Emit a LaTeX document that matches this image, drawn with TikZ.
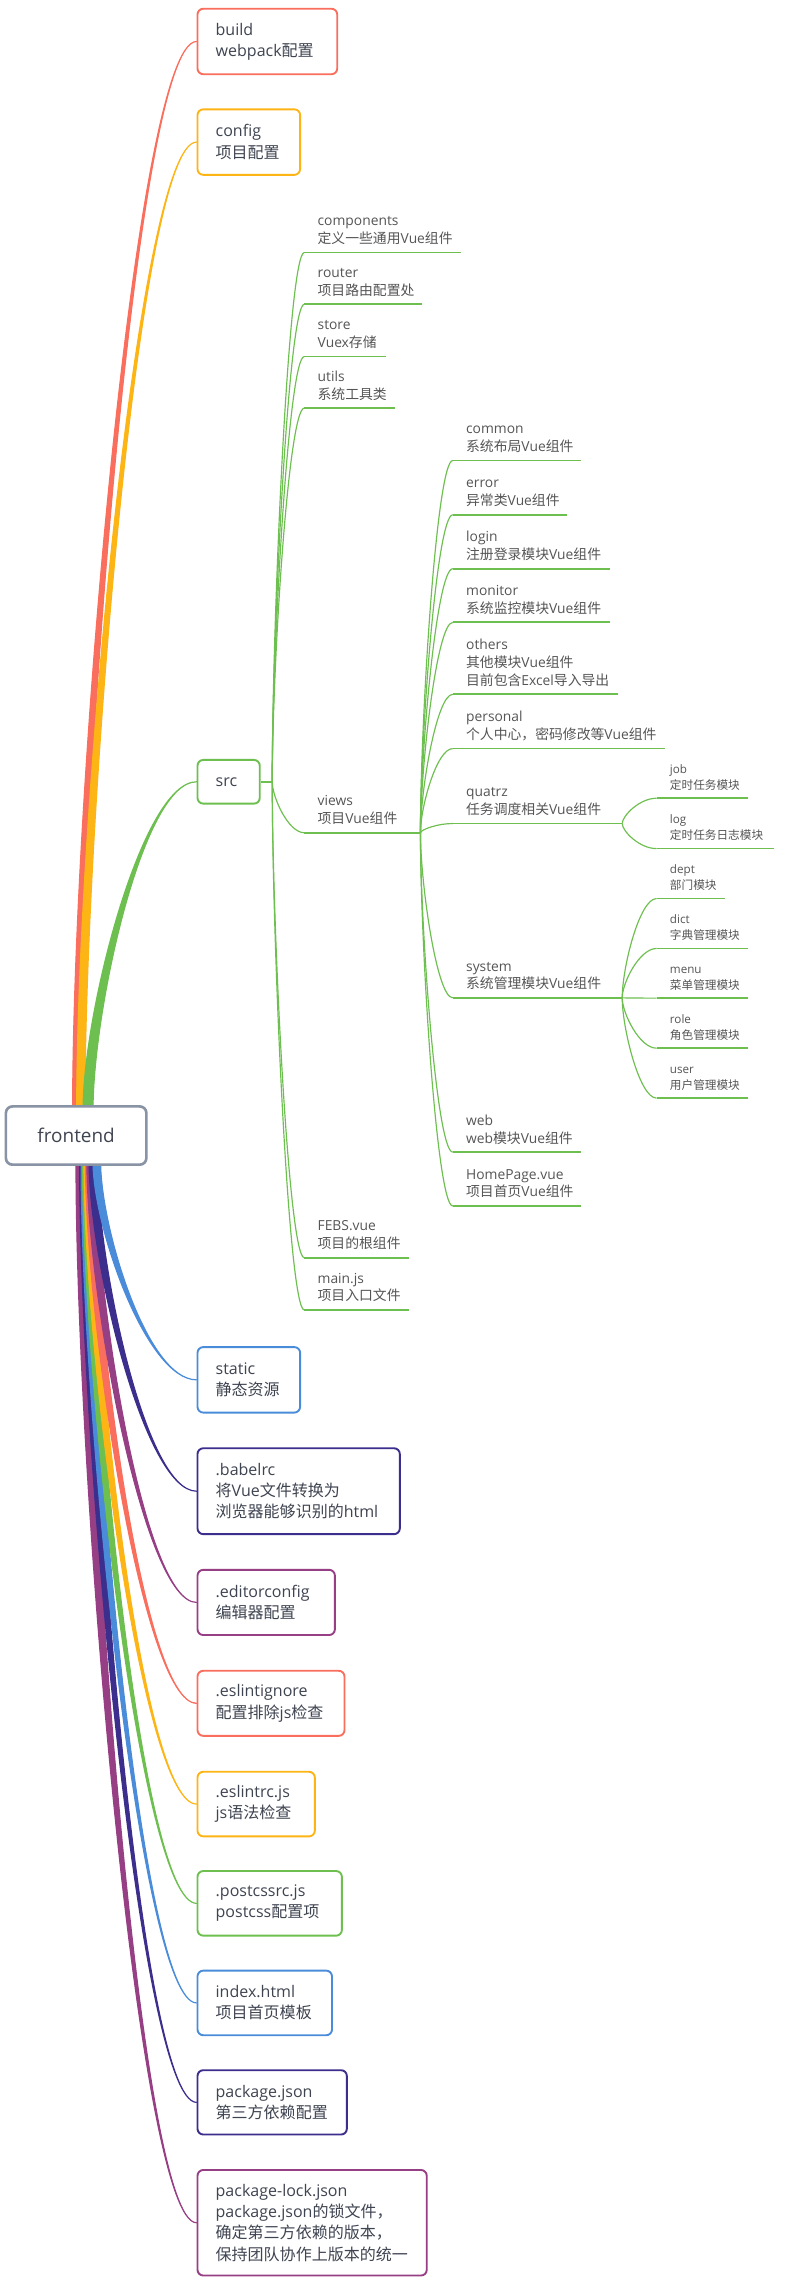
\documentclass[tikz,border=0pt]{standalone}
\usepackage{fontspec}
\setmainfont{Open Sans}
\newfontfamily\latinfont{Open Sans}
\newfontfamily\cjkfont{Noto Sans CJK SC}
\XeTeXinterchartokenstate=1
\newXeTeXintercharclass\cjkclass
\newcount\cjkcnt
\cjkcnt="4E00
\loop\XeTeXcharclass\cjkcnt=\cjkclass\ifnum\cjkcnt<"9FFF\advance\cjkcnt by 1\repeat
\XeTeXcharclass"FF0C=\cjkclass
\XeTeXcharclass"3001=\cjkclass
\XeTeXcharclass"3002=\cjkclass
\XeTeXinterchartoks 0 \cjkclass = {\cjkfont}
\XeTeXinterchartoks 4095 \cjkclass = {\cjkfont}
\XeTeXinterchartoks \cjkclass 0 = {\latinfont}
\XeTeXinterchartoks 4095 0 = {\latinfont}
\usetikzlibrary{calc}
\definecolor{cRed}{HTML}{FA6E5E}
\definecolor{cOrange}{HTML}{FDB515}
\definecolor{cGreen}{HTML}{6DBF4F}
\definecolor{cBlue}{HTML}{4A8CDA}
\definecolor{cIndigo}{HTML}{3C2E8C}
\definecolor{cPurple}{HTML}{973F85}
\definecolor{cRoot}{HTML}{8893A5}
\definecolor{cText}{HTML}{3F4451}
\definecolor{cSub}{HTML}{555555}
\tikzset{
  rootbox/.style={draw=cRoot, line width=1.8pt, rounded corners=4.5pt, fill=white,
    minimum width=96.5pt, minimum height=40pt, inner sep=0pt,
    font=\fontsize{13}{16}\selectfont, text=cText},
  mainbox/.style={draw=#1, line width=1.3pt, rounded corners=4pt, fill=white,
    inner xsep=12.5pt, inner ysep=0pt, align=left, anchor=west,
    font=\fontsize{11}{14.6}\selectfont, text=cText},
  lbl/.style={inner sep=0pt, align=left, anchor=south west, text depth=0pt,
    text=cSub, font=\fontsize{9.5}{12.2}\selectfont},
  lblsmall/.style={lbl, font=\fontsize{8}{10.8}\selectfont},
  uline/.style={draw=cGreen, line width=1.2pt},
  conn/.style={draw=cGreen, line width=0.8pt},
}
% tapered root branch: start, end, colour, half width
\newcommand{\rbr}[4]{%
  \filldraw[#3, line width=0.8pt, line join=round] let \p1=(#1), \p2=(#2) in
  (\x1-#4,\y1) .. controls (\x1-#4,{\y1+0.3*((\y2)-(\y1))}) and ({\x1+0.5*((\x2)-(\x1))},\y2) .. (\x2,\y2)
  .. controls ({\x1+0.5*((\x2)-(\x1))},\y2) and (\x1+#4,{\y1+0.3*((\y2)-(\y1))}) .. (\x1+#4,\y1) -- cycle;}
% thin sub connector
\newcommand{\sbr}[2]{%
  \draw[conn] let \p1=(#1), \p2=(#2) in
  (\x1,\y1) .. controls (\x1,{\y1+0.3*((\y2)-(\y1))}) and ({\x1+0.5*((\x2)-(\x1))},\y2) .. (\x2,\y2);}
% underlined topic: name, style, text x, underline y, underline start, underline end, text
\newcommand{\topic}[7]{%
  \coordinate (#1-a) at (#5,#4);
  \coordinate (#1-b) at (#6,#4);
  \draw[uline] (#1-a) -- (#1-b);
  \node[#2] (#1) at (#3,#4-6) {#7};}
\begin{document}
\begin{tikzpicture}[x=1pt,y=-1pt]
\useasboundingbox[fill=white] (0,0) rectangle (541,1573);

% level-2 topics (src children)
\topic{components}{lbl}{218}{173.5}{209}{316.5}{components\\定义一些通用Vue组件}
\topic{router}{lbl}{218}{209}{209}{290}{router\\项目路由配置处}
\topic{store}{lbl}{218}{244.9}{209}{265}{store\\Vuex存储}
\topic{utils}{lbl}{218}{280.3}{209}{271}{utils\\系统工具类}
\topic{views}{lbl}{218}{572}{209}{288.8}{views\\项目Vue组件}
\topic{febs}{lbl}{218}{863.9}{209}{281}{FEBS.vue\\项目的根组件}
\topic{mainjs}{lbl}{218}{899.8}{209}{281}{main.js\\项目入口文件}

% level-3 topics (views children)
\topic{common}{lbl}{320}{316.3}{311}{399}{common\\系统布局Vue组件}
\topic{error}{lbl}{320}{353.6}{311}{389.6}{error\\异常类Vue组件}
\topic{login}{lbl}{320}{390.6}{311}{418.8}{login\\注册登录模块Vue组件}
\topic{monitor}{lbl}{320}{427.5}{311}{418.8}{monitor\\系统监控模块Vue组件}
\topic{others}{lbl}{320}{476.9}{311}{424.6}{others\\其他模块Vue组件\\目前包含Excel导入导出}
\topic{personal}{lbl}{320}{514.2}{311}{456.6}{personal\\个人中心，密码修改等Vue组件}
\topic{quatrz}{lbl}{320}{565.7}{311}{427.4}{quatrz\\任务调度相关Vue组件}
\topic{system}{lbl}{320}{685.4}{311}{427.4}{system\\系统管理模块Vue组件}
\topic{web}{lbl}{320}{791.4}{311}{399}{web\\web模块Vue组件}
\topic{homepage}{lbl}{320}{828.4}{311}{399}{HomePage.vue\\项目首页Vue组件}

% level-4 topics
\topic{job}{lblsmall}{460}{548.3}{451}{514}{job\\定时任务模块}
\topic{log}{lblsmall}{460}{582.9}{451}{531.4}{log\\定时任务日志模块}
\topic{dept}{lblsmall}{460}{617.2}{451}{497.8}{dept\\部门模块}
\topic{dict}{lblsmall}{460}{651.5}{451}{514}{dict\\字典管理模块}
\topic{menu}{lblsmall}{460}{685.6}{451}{514}{menu\\菜单管理模块}
\topic{role}{lblsmall}{460}{720}{451}{514}{role\\角色管理模块}
\topic{user}{lblsmall}{460}{754.3}{451}{514}{user\\用户管理模块}

% level-1 boxes
\node[mainbox=cRed, minimum width=96pt, text width=71pt, minimum height=45pt] (build) at (135,28.5) {build\\webpack配置};
\node[mainbox=cOrange, minimum width=70.5pt, text width=45.5pt, minimum height=45pt] (config) at (135,97.6) {config\\项目配置};
\node[mainbox=cGreen, minimum width=42.8pt, text width=17.8pt, minimum height=30pt] (src) at (135,537) {src};
\node[mainbox=cBlue, minimum width=70.5pt, text width=45.5pt, minimum height=45pt] (static) at (135,947.8) {static\\静态资源};
\node[mainbox=cIndigo, minimum width=139pt, text width=114pt, minimum height=59pt] (babelrc) at (135,1024.3) {.babelrc\\将Vue文件转换为\\浏览器能够识别的html};
\node[mainbox=cPurple, minimum width=94.4pt, text width=69.4pt, minimum height=44.8pt] (editorconfig) at (135,1100.7) {.editorconfig\\编辑器配置};
\node[mainbox=cRed, minimum width=101pt, text width=76pt, minimum height=44.7pt] (eslintignore) at (135,1170) {.eslintignore\\配置排除js检查};
\node[mainbox=cOrange, minimum width=80.6pt, text width=55.6pt, minimum height=44.4pt] (eslintrc) at (135,1239.2) {.eslintrc.js\\js语法检查};
\node[mainbox=cGreen, minimum width=99.2pt, text width=74.2pt, minimum height=44.4pt] (postcssrc) at (135,1307.4) {.postcssrc.js\\postcss配置项};
\node[mainbox=cBlue, minimum width=92.4pt, text width=67.4pt, minimum height=44.4pt] (indexhtml) at (135,1375.8) {index.html\\项目首页模板};
\node[mainbox=cIndigo, minimum width=102.6pt, text width=77.6pt, minimum height=44.2pt] (packagejson) at (135,1444.1) {package.json\\第三方依赖配置};
\node[mainbox=cPurple, minimum width=157.5pt, text width=132.5pt, minimum height=72.5pt] (packagelock) at (135,1526.8) {package-lock.json\\package.json的锁文件，\\确定第三方依赖的版本，\\保持团队协作上版本的统一};

% src stub and sub connectors
\coordinate (srcj) at (187,537);
\draw[uline] (src.east) -- (srcj);
\foreach \t in {components,router,store,utils,views,febs,mainjs}{\sbr{srcj}{\t-a}}
\foreach \t in {common,error,login,monitor,others,personal,quatrz,system,web,homepage}{\sbr{views-b}{\t-a}}
\foreach \t in {job,log}{\sbr{quatrz-b}{\t-a}}
\foreach \t in {dept,dict,menu,role,user}{\sbr{system-b}{\t-a}}

% root branch start points
\coordinate (t1) at (52.5,762);
\coordinate (t2) at (55.5,762);
\coordinate (t3) at (60.5,762);
\coordinate (b1) at (55.5,798);
\coordinate (b2) at (57.5,798);
\coordinate (b3) at (58.5,798);
\coordinate (b4) at (59.5,798);
\coordinate (b5) at (60.5,798);
\coordinate (b6) at (61.5,798);
\coordinate (b7) at (62.5,798);
\coordinate (b8) at (64,798);
\coordinate (b9) at (66.5,798);

% root branches (farthest first)
\rbr{t1}{build.west}{cRed}{2.6pt}
\rbr{t2}{config.west}{cOrange}{2.8pt}
\rbr{t3}{src.west}{cGreen}{3.4pt}
\rbr{b1}{packagelock.west}{cPurple}{3.3pt}
\rbr{b2}{packagejson.west}{cIndigo}{2.8pt}
\rbr{b3}{indexhtml.west}{cBlue}{2.8pt}
\rbr{b4}{postcssrc.west}{cGreen}{2.8pt}
\rbr{b5}{eslintrc.west}{cOrange}{2.8pt}
\rbr{b6}{eslintignore.west}{cRed}{2.8pt}
\rbr{b7}{editorconfig.west}{cPurple}{2.8pt}
\rbr{b8}{babelrc.west}{cIndigo}{2.8pt}
\rbr{b9}{static.west}{cBlue}{2.6pt}

% root
\node[rootbox] (root) at (52.3,780) {frontend};
\end{tikzpicture}
\end{document}
